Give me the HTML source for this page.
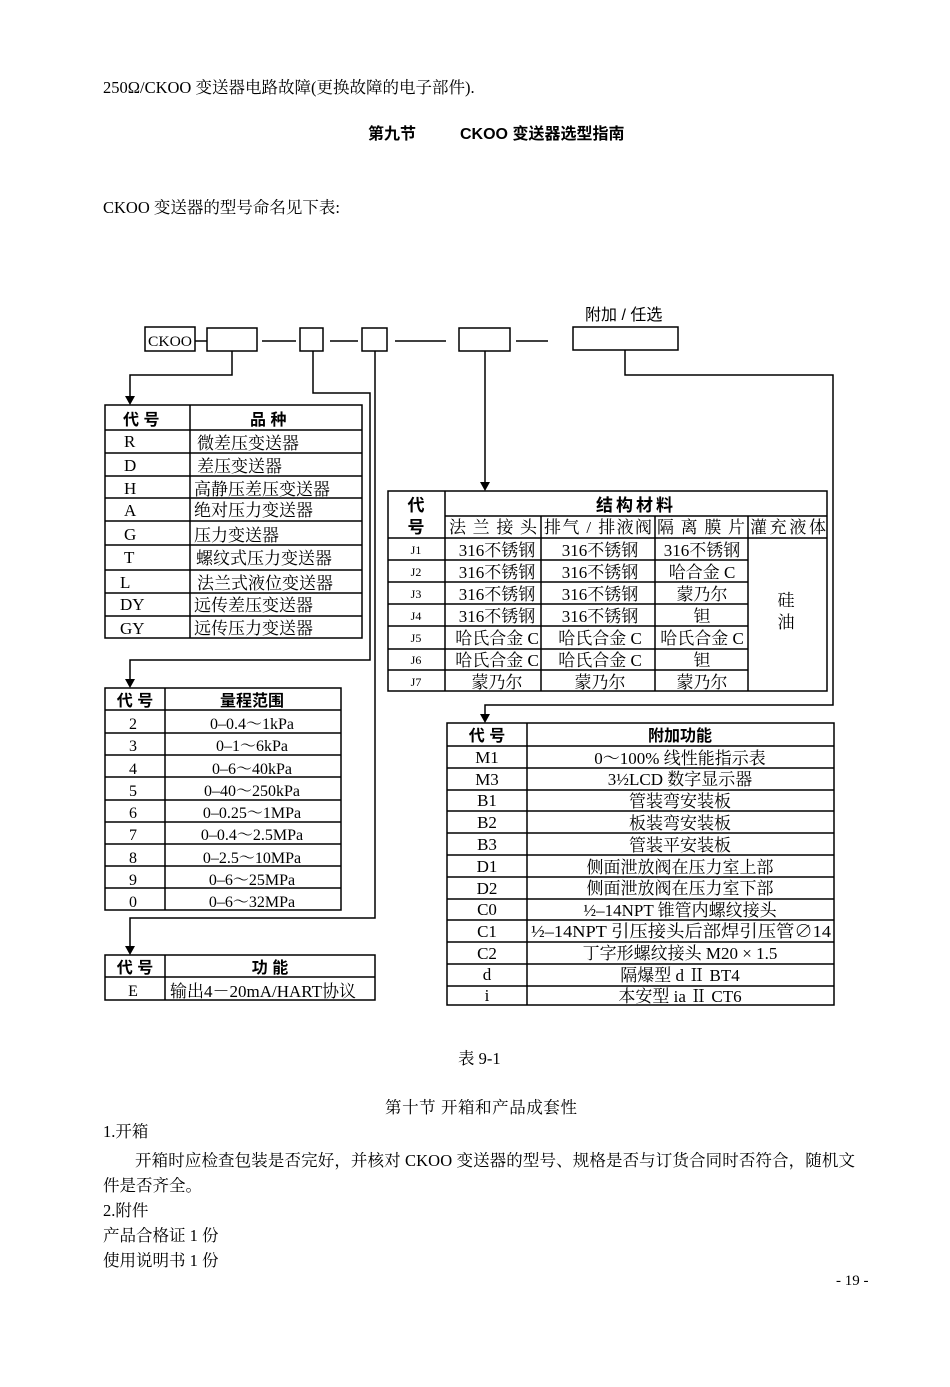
<!DOCTYPE html>
<html><head><meta charset="utf-8"><style>
body{margin:0;background:#fff;}
svg{display:block;}
text{font-family:"Liberation Serif","Noto Serif CJK SC","Noto Sans CJK SC",serif;fill:#000;}
.s{font-family:"Liberation Sans","Noto Sans CJK SC",sans-serif;}
.b{font-weight:bold;}
</style></head><body>
<svg width="950" height="1387" viewBox="0 0 950 1387" xmlns="http://www.w3.org/2000/svg" font-size="16">
<text x="103" y="93" font-size="16.5">250Ω/CKOO 变送器电路故障(更换故障的电子部件).</text>
<text x="368" y="139" class="s b" font-size="16">第九节</text>
<text x="460" y="139" class="s b" font-size="16">CKOO 变送器选型指南</text>
<text x="103" y="213" font-size="16.5">CKOO 变送器的型号命名见下表:</text>

<g stroke="#000" stroke-width="1.5" fill="none">
<rect x="145" y="327" width="50" height="24"/>
<line x1="195" y1="341" x2="207" y2="341"/>
<rect x="207" y="328" width="50" height="23"/>
<line x1="262" y1="341" x2="296" y2="341"/>
<rect x="300" y="328" width="23" height="23"/>
<line x1="330" y1="341" x2="358" y2="341"/>
<rect x="362" y="328" width="25" height="23"/>
<line x1="395" y1="341" x2="446" y2="341"/>
<rect x="459" y="328" width="51" height="23"/>
<line x1="516" y1="341" x2="548" y2="341"/>
<rect x="573" y="327" width="105" height="23"/>
<polyline points="232,351 232,375 130,375 130,398"/>
<polyline points="313,351 313,393 370,393 370,660 130,660 130,681"/>
<polyline points="375,351 375,918 130,918 130,948"/>
<polyline points="485,351 485,484"/>
<polyline points="625,350 625,375 833,375 833,705 485,705 485,716"/>

<rect x="105" y="405" width="257" height="233"/>
<line x1="190" y1="405" x2="190" y2="638"/>
<path d="M105 430H362M105 453H362M105 476H362M105 498H362M105 521H362M105 545H362M105 570H362M105 593H362M105 616H362"/>
<rect x="105" y="688" width="236" height="222"/>
<line x1="165" y1="688" x2="165" y2="910"/>
<path d="M105 710H341M105 733H341M105 755H341M105 777H341M105 800H341M105 822H341M105 844H341M105 866H341M105 888H341"/>
<rect x="105" y="955" width="270" height="45"/>
<line x1="165" y1="955" x2="165" y2="1000"/>
<line x1="105" y1="977" x2="375" y2="977"/>
<rect x="388" y="491" width="439" height="200"/>
<line x1="445" y1="491" x2="445" y2="691"/>
<line x1="445" y1="516" x2="827" y2="516"/>
<line x1="541" y1="516" x2="541" y2="691"/>
<line x1="655" y1="516" x2="655" y2="691"/>
<line x1="748" y1="516" x2="748" y2="691"/>
<line x1="388" y1="538" x2="827" y2="538"/>
<path d="M388 560H748M388 582H748M388 604H748M388 626H748M388 649H748M388 670H748"/>
<rect x="447" y="723" width="387" height="282"/>
<line x1="527" y1="723" x2="527" y2="1005"/>
<path d="M447 746H834M447 768H834M447 790H834M447 811H834M447 833H834M447 855H834M447 877H834M447 899H834M447 920H834M447 942H834M447 964H834M447 986H834"/>
</g>
<g fill="#000">
<polygon points="125,396 135,396 130,405"/>
<polygon points="125,679 135,679 130,688"/>
<polygon points="125,946 135,946 130,955"/>
<polygon points="480,482 490,482 485,491"/>
<polygon points="480,714 490,714 485,723"/>
</g>

<text x="148" y="346" font-size="15" textLength="44" lengthAdjust="spacingAndGlyphs">CKOO</text>
<text x="585" y="320" class="s" font-size="16">附加 / 任选</text>

<g font-size="17">
<text x="123" y="425" class="s b" font-size="16">代 号</text><text x="250" y="425" class="s b" font-size="16">品 种</text>
<text x="124" y="447">R</text><text x="197" y="449">微差压变送器</text>
<text x="124" y="471">D</text><text x="197" y="472">差压变送器</text>
<text x="124" y="494">H</text><text x="194" y="495">高静压差压变送器</text>
<text x="124" y="516">A</text><text x="194" y="516">绝对压力变送器</text>
<text x="124" y="540">G</text><text x="194" y="541">压力变送器</text>
<text x="124" y="563">T</text><text x="196" y="564">螺纹式压力变送器</text>
<text x="120" y="588">L</text><text x="197" y="589">法兰式液位变送器</text>
<text x="120" y="610">DY</text><text x="194" y="611">远传差压变送器</text>
<text x="120" y="634">GY</text><text x="194" y="634">远传压力变送器</text>
</g>

<g font-size="16" text-anchor="middle">
<text x="135" y="706" class="s b">代 号</text><text x="252" y="706" class="s b">量程范围</text>
<text x="133" y="729">2</text><text x="252" y="729">0–0.4～1kPa</text>
<text x="133" y="751">3</text><text x="252" y="751">0–1～6kPa</text>
<text x="133" y="774">4</text><text x="252" y="774">0–6～40kPa</text>
<text x="133" y="796">5</text><text x="252" y="796">0–40～250kPa</text>
<text x="133" y="818">6</text><text x="252" y="818">0–0.25～1MPa</text>
<text x="133" y="840">7</text><text x="252" y="840">0–0.4～2.5MPa</text>
<text x="133" y="863">8</text><text x="252" y="863">0–2.5～10MPa</text>
<text x="133" y="885">9</text><text x="252" y="885">0–6～25MPa</text>
<text x="133" y="907">0</text><text x="252" y="907">0–6～32MPa</text>
<text x="135" y="973" class="s b">代 号</text><text x="270" y="973" class="s b">功 能</text>
<text x="133" y="996">E</text>
</g>
<text x="170" y="997" font-size="17">输出4－20mA/HART协议</text>

<g font-size="17" text-anchor="middle">
<text x="416" y="511" class="s b">代</text><text x="416" y="533" class="s b">号</text>
<text x="636" y="511" class="s b" letter-spacing="3">结构材料</text>
<text x="493" y="533" textLength="88">法兰接头</text><text x="598" y="533" textLength="108">排气 / 排液阀</text><text x="701" y="533" textLength="88">隔离膜片</text><text x="788" y="533" textLength="76">灌充液体</text>
<text x="416" y="554" font-size="12">J1</text><text x="416" y="576" font-size="12">J2</text><text x="416" y="598" font-size="12">J3</text><text x="416" y="620" font-size="12">J4</text><text x="416" y="642" font-size="12">J5</text><text x="416" y="664" font-size="12">J6</text><text x="416" y="686" font-size="12">J7</text>
<text x="497" y="556">316不锈钢</text><text x="600" y="556">316不锈钢</text><text x="702" y="556">316不锈钢</text>
<text x="497" y="578">316不锈钢</text><text x="600" y="578">316不锈钢</text><text x="702" y="578">哈合金 C</text>
<text x="497" y="600">316不锈钢</text><text x="600" y="600">316不锈钢</text><text x="702" y="600">蒙乃尔</text>
<text x="497" y="622">316不锈钢</text><text x="600" y="622">316不锈钢</text><text x="702" y="622">钽</text>
<text x="497" y="644">哈氏合金 C</text><text x="600" y="644">哈氏合金 C</text><text x="702" y="644">哈氏合金 C</text>
<text x="497" y="666">哈氏合金 C</text><text x="600" y="666">哈氏合金 C</text><text x="702" y="666">钽</text>
<text x="497" y="688">蒙乃尔</text><text x="600" y="688">蒙乃尔</text><text x="702" y="688">蒙乃尔</text>
<text x="786" y="606">硅</text><text x="786" y="628">油</text>
</g>

<g font-size="17" text-anchor="middle">
<text x="487" y="741" class="s b" font-size="16">代 号</text><text x="680" y="741" class="s b" font-size="16">附加功能</text>
<text x="487" y="763">M1</text><text x="680" y="764">0～100% 线性能指示表</text>
<text x="487" y="785">M3</text><text x="680" y="785">3½LCD 数字显示器</text>
<text x="487" y="806">B1</text><text x="680" y="807">管装弯安装板</text>
<text x="487" y="828">B2</text><text x="680" y="829">板装弯安装板</text>
<text x="487" y="850">B3</text><text x="680" y="851">管装平安装板</text>
<text x="487" y="872">D1</text><text x="680" y="873">侧面泄放阀在压力室上部</text>
<text x="487" y="894">D2</text><text x="680" y="894">侧面泄放阀在压力室下部</text>
<text x="487" y="915">C0</text><text x="680" y="916">½–14NPT 锥管内螺纹接头</text>
<text x="487" y="937">C1</text><text x="681" y="937" textLength="300" lengthAdjust="spacingAndGlyphs">½–14NPT 引压接头后部焊引压管∅14</text>
<text x="487" y="959">C2</text><text x="680" y="959">丁字形螺纹接头 M20 × 1.5</text>
<text x="487" y="980">d</text><text x="680" y="981">隔爆型 d Ⅱ BT4</text>
<text x="487" y="1001">i</text><text x="680" y="1002">本安型 ia Ⅱ CT6</text>
</g>

<g font-size="16.5">
<text x="458" y="1064">表 9-1</text>
<text x="385" y="1113" textLength="192">第十节  开箱和产品成套性</text>
<text x="103" y="1137">1.开箱</text>
<text x="135" y="1166" textLength="720">开箱时应检查包装是否完好，并核对 CKOO 变送器的型号、规格是否与订货合同时否符合，随机文</text>
<text x="103" y="1191">件是否齐全。</text>
<text x="103" y="1216">2.附件</text>
<text x="103" y="1241">产品合格证 1 份</text>
<text x="103" y="1266">使用说明书 1 份</text>
<text x="836" y="1285" font-size="15">- 19 -</text>
</g>
</svg>
</body></html>
